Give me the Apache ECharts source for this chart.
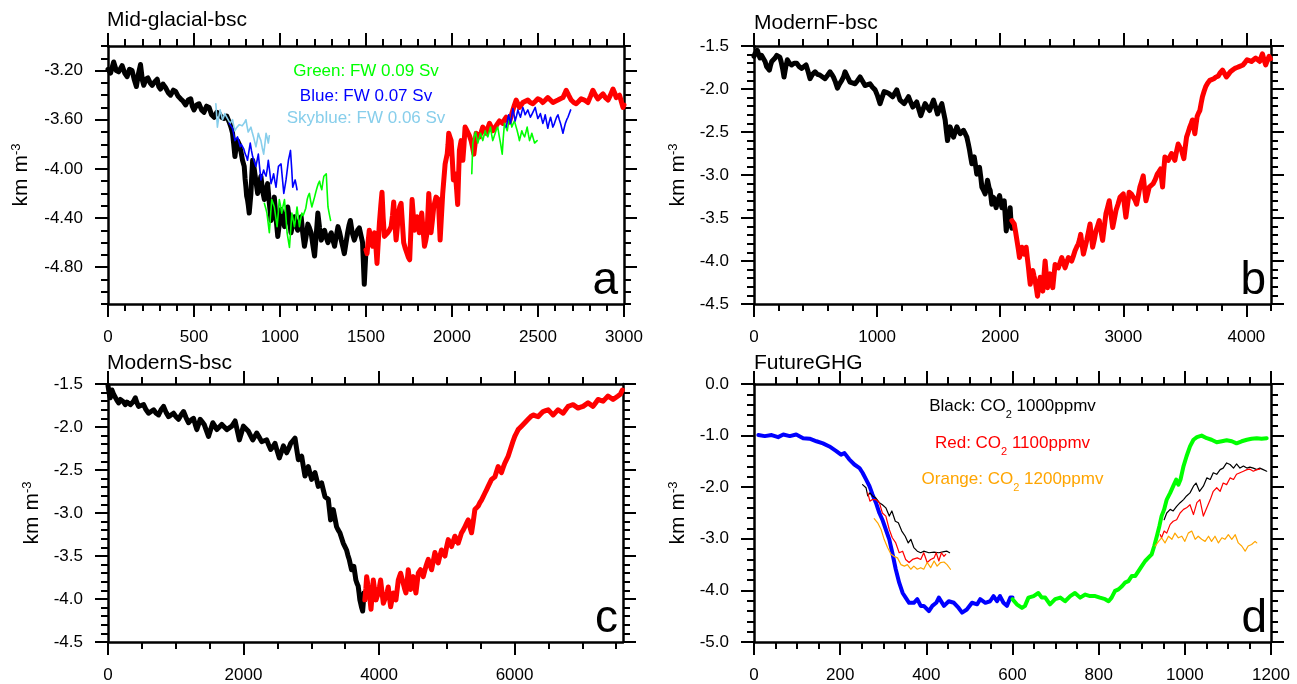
<!DOCTYPE html>
<html>
<head>
<meta charset="utf-8">
<script src="https://cdn.jsdelivr.net/npm/echarts@6/dist/echarts.min.js"></script>
<style>
html, body { margin: 0; padding: 0; background: #fff; }
#chart { width: 1297px; height: 684px; }
</style>
</head>
<body>
<div id="chart"></div>
<script>
var FONT = 'Liberation Sans';

// ---------------- tick labels ----------------
var aXTicks = [0, 500, 1000, 1500, 2000, 2500, 3000];
var aYTicks = [-4.8, -4.4, -4.0, -3.6, -3.2];
var bXTicks = [0, 1000, 2000, 3000, 4000];
var bYTicks = [-4.5, -4.0, -3.5, -3.0, -2.5, -2.0, -1.5];
var cXTicks = [0, 2000, 4000, 6000];
var cYTicks = [-4.5, -4.0, -3.5, -3.0, -2.5, -2.0, -1.5];
var dXTicks = [0, 200, 400, 600, 800, 1000, 1200];
var dYTicks = [-5.0, -4.0, -3.0, -2.0, -1.0, 0.0];

// ---------------- panel a : Mid-glacial-bsc ----------------
var aBlack = [[0,-3.19],[15,-3.22],[33,-3.13],[48,-3.20],[62,-3.21],[82,-3.16],[97,-3.22],[111,-3.25],[125,-3.19],[140,-3.20],[152,-3.27],[165,-3.33],[178,-3.22],[189,-3.15],[200,-3.28],[208,-3.32],[220,-3.27],[232,-3.26],[245,-3.30],[257,-3.32],[272,-3.29],[286,-3.27],[295,-3.33],[305,-3.35],[320,-3.31],[335,-3.34],[350,-3.38],[364,-3.40],[380,-3.36],[393,-3.37],[408,-3.41],[422,-3.43],[437,-3.45],[451,-3.48],[466,-3.44],[481,-3.43],[490,-3.49],[500,-3.52],[515,-3.48],[529,-3.47],[544,-3.52],[558,-3.54],[573,-3.49],[588,-3.50],[602,-3.56],[617,-3.58],[632,-3.54],[646,-3.55],[660,-3.58],[675,-3.59],[690,-3.57],[705,-3.62],[715,-3.66],[724,-3.71],[731,-3.80],[738,-3.90],[745,-3.82],[753,-3.77],[763,-3.80],[773,-3.86],[782,-3.93],[792,-3.98],[797,-4.08],[802,-4.15],[806,-4.22],[811,-4.25],[816,-4.30],[821,-4.36],[826,-4.28],[831,-4.20],[836,-4.05],[841,-3.93],[848,-3.98],[854,-4.04],[862,-4.12],[870,-4.20],[880,-4.12],[889,-4.06],[899,-4.18],[909,-4.25],[918,-4.18],[928,-4.12],[938,-4.28],[948,-4.42],[957,-4.33],[967,-4.23],[977,-4.40],[987,-4.55],[996,-4.45],[1006,-4.33],[1016,-4.40],[1026,-4.47],[1035,-4.38],[1045,-4.31],[1055,-4.42],[1064,-4.52],[1074,-4.45],[1084,-4.39],[1094,-4.46],[1103,-4.50],[1113,-4.44],[1123,-4.39],[1132,-4.52],[1142,-4.63],[1152,-4.55],[1162,-4.45],[1171,-4.48],[1181,-4.52],[1191,-4.62],[1201,-4.71],[1210,-4.55],[1220,-4.36],[1230,-4.48],[1240,-4.58],[1250,-4.53],[1259,-4.50],[1269,-4.56],[1279,-4.60],[1288,-4.55],[1298,-4.52],[1308,-4.58],[1317,-4.63],[1327,-4.55],[1337,-4.47],[1347,-4.52],[1356,-4.58],[1366,-4.64],[1374,-4.69],[1384,-4.60],[1393,-4.52],[1401,-4.46],[1409,-4.42],[1420,-4.52],[1432,-4.58],[1441,-4.54],[1451,-4.50],[1461,-4.48],[1471,-4.47],[1480,-4.60],[1490,-4.94],[1500,-4.66]];
var aRed = [[1500,-4.66],[1506,-4.69],[1512,-4.60],[1519,-4.50],[1529,-4.58],[1539,-4.63],[1549,-4.52],[1557,-4.62],[1564,-4.77],[1571,-4.60],[1578,-4.44],[1586,-4.30],[1593,-4.19],[1600,-4.40],[1607,-4.55],[1617,-4.54],[1626,-4.52],[1636,-4.50],[1646,-4.47],[1654,-4.38],[1661,-4.27],[1668,-4.45],[1675,-4.58],[1682,-4.48],[1688,-4.36],[1696,-4.31],[1704,-4.28],[1712,-4.45],[1719,-4.60],[1729,-4.65],[1739,-4.69],[1746,-4.72],[1754,-4.74],[1761,-4.50],[1768,-4.25],[1775,-4.38],[1781,-4.50],[1789,-4.45],[1797,-4.39],[1803,-4.46],[1810,-4.52],[1817,-4.44],[1824,-4.36],[1832,-4.50],[1840,-4.63],[1848,-4.58],[1855,-4.52],[1860,-4.36],[1865,-4.20],[1872,-4.36],[1878,-4.52],[1886,-4.42],[1894,-4.31],[1900,-4.27],[1907,-4.23],[1914,-4.24],[1921,-4.25],[1926,-4.42],[1931,-4.58],[1938,-4.40],[1946,-4.20],[1953,-4.08],[1960,-3.96],[1966,-3.92],[1972,-3.88],[1977,-3.80],[1981,-3.71],[1988,-3.74],[1995,-3.77],[2002,-3.93],[2008,-4.09],[2014,-4.06],[2020,-4.04],[2027,-4.17],[2033,-4.29],[2038,-4.07],[2043,-3.85],[2048,-3.81],[2053,-3.77],[2058,-3.85],[2063,-3.93],[2070,-3.80],[2076,-3.66],[2084,-3.68],[2092,-3.69],[2101,-3.73],[2111,-3.77],[2119,-3.82],[2127,-3.88],[2134,-3.80],[2140,-3.71],[2150,-3.72],[2160,-3.74],[2170,-3.70],[2179,-3.66],[2189,-3.68],[2198,-3.71],[2208,-3.67],[2218,-3.63],[2228,-3.66],[2237,-3.69],[2247,-3.67],[2257,-3.66],[2266,-3.63],[2276,-3.61],[2286,-3.62],[2296,-3.63],[2305,-3.60],[2315,-3.58],[2325,-3.60],[2334,-3.62],[2344,-3.57],[2354,-3.52],[2363,-3.48],[2373,-3.44],[2383,-3.47],[2392,-3.50],[2402,-3.48],[2412,-3.46],[2426,-3.45],[2441,-3.44],[2455,-3.46],[2470,-3.47],[2485,-3.45],[2499,-3.43],[2514,-3.44],[2528,-3.46],[2543,-3.44],[2557,-3.42],[2572,-3.44],[2587,-3.46],[2601,-3.45],[2616,-3.44],[2630,-3.43],[2645,-3.42],[2655,-3.39],[2664,-3.36],[2678,-3.40],[2693,-3.44],[2708,-3.46],[2722,-3.47],[2737,-3.45],[2751,-3.43],[2770,-3.44],[2790,-3.46],[2805,-3.41],[2819,-3.36],[2834,-3.40],[2848,-3.43],[2863,-3.41],[2878,-3.39],[2892,-3.42],[2907,-3.44],[2921,-3.40],[2936,-3.35],[2945,-3.38],[2955,-3.42],[2965,-3.41],[2974,-3.40],[2984,-3.45],[2994,-3.50],[3000,-3.48]];
var aGreen1 = [[909,-4.28],[917,-4.32],[924,-4.36],[931,-4.44],[938,-4.52],[945,-4.38],[952,-4.25],[960,-4.28],[967,-4.31],[975,-4.39],[983,-4.47],[990,-4.36],[996,-4.25],[1003,-4.30],[1010,-4.36],[1018,-4.30],[1026,-4.25],[1034,-4.38],[1041,-4.52],[1048,-4.58],[1055,-4.64],[1062,-4.50],[1069,-4.36],[1077,-4.42],[1084,-4.47],[1092,-4.39],[1099,-4.31],[1106,-4.39],[1113,-4.47],[1120,-4.41],[1127,-4.36],[1135,-4.38],[1142,-4.39],[1150,-4.32],[1158,-4.25],[1164,-4.22],[1171,-4.20],[1178,-4.26],[1185,-4.31],[1193,-4.27],[1201,-4.23],[1208,-4.19],[1216,-4.15],[1223,-4.12],[1230,-4.10],[1236,-4.14],[1243,-4.17],[1249,-4.11],[1255,-4.06],[1262,-4.05],[1269,-4.04],[1274,-4.18],[1279,-4.31],[1287,-4.37],[1294,-4.42]];
var aGreen2 = [[2115,-4.04],[2121,-3.79],[2129,-3.74],[2137,-3.70],[2144,-3.75],[2150,-3.79],[2158,-3.75],[2166,-3.71],[2172,-3.74],[2179,-3.77],[2186,-3.73],[2193,-3.69],[2200,-3.72],[2208,-3.74],[2216,-3.70],[2224,-3.66],[2230,-3.72],[2237,-3.77],[2244,-3.74],[2251,-3.71],[2258,-3.68],[2266,-3.66],[2274,-3.73],[2282,-3.79],[2292,-3.88],[2298,-3.75],[2305,-3.63],[2313,-3.66],[2321,-3.69],[2328,-3.63],[2334,-3.58],[2341,-3.62],[2348,-3.66],[2356,-3.63],[2363,-3.61],[2371,-3.65],[2379,-3.69],[2386,-3.73],[2392,-3.77],[2399,-3.73],[2406,-3.69],[2414,-3.72],[2422,-3.74],[2430,-3.70],[2437,-3.66],[2444,-3.72],[2451,-3.77],[2458,-3.74],[2464,-3.71],[2472,-3.75],[2480,-3.79],[2488,-3.78],[2495,-3.77]];
var aBlue1 = [[705,-3.63],[715,-3.65],[724,-3.67],[731,-3.72],[738,-3.77],[745,-3.76],[753,-3.74],[761,-3.78],[769,-3.82],[775,-3.80],[782,-3.79],[790,-3.84],[798,-3.88],[805,-3.90],[811,-3.93],[819,-3.86],[827,-3.79],[834,-3.85],[841,-3.90],[850,-3.94],[860,-3.98],[867,-3.93],[874,-3.88],[881,-3.98],[889,-4.09],[897,-4.05],[905,-4.01],[912,-4.04],[919,-4.06],[926,-4.00],[932,-3.93],[940,-4.02],[948,-4.12],[956,-4.08],[963,-4.04],[970,-4.10],[977,-4.15],[984,-4.06],[991,-3.98],[999,-3.97],[1006,-3.96],[1014,-4.08],[1022,-4.20],[1028,-4.15],[1035,-4.09],[1042,-4.01],[1049,-3.93],[1055,-3.89],[1061,-3.85],[1068,-4.00],[1074,-4.15],[1081,-4.12],[1088,-4.09],[1094,-4.13],[1099,-4.17]];
var aBlue2 = [[2315,-3.66],[2322,-3.61],[2329,-3.56],[2335,-3.60],[2340,-3.63],[2347,-3.57],[2354,-3.51],[2361,-3.56],[2367,-3.61],[2375,-3.57],[2383,-3.52],[2390,-3.55],[2398,-3.58],[2405,-3.54],[2412,-3.50],[2419,-3.53],[2425,-3.56],[2433,-3.54],[2441,-3.52],[2448,-3.55],[2456,-3.58],[2463,-3.56],[2470,-3.54],[2477,-3.52],[2484,-3.50],[2492,-3.55],[2499,-3.59],[2507,-3.57],[2514,-3.55],[2521,-3.59],[2528,-3.63],[2535,-3.60],[2542,-3.56],[2550,-3.62],[2557,-3.67],[2565,-3.62],[2573,-3.58],[2580,-3.62],[2586,-3.66],[2593,-3.64],[2600,-3.61],[2608,-3.58],[2616,-3.56],[2624,-3.60],[2631,-3.63],[2638,-3.67],[2645,-3.71],[2652,-3.67],[2659,-3.63],[2667,-3.60],[2674,-3.58],[2682,-3.55],[2690,-3.52]];
var aSkyblue = [[627,-3.47],[636,-3.66],[644,-3.58],[652,-3.52],[659,-3.56],[666,-3.60],[672,-3.58],[679,-3.55],[687,-3.57],[695,-3.58],[702,-3.61],[710,-3.63],[717,-3.62],[724,-3.60],[731,-3.65],[738,-3.69],[745,-3.67],[753,-3.66],[763,-3.64],[773,-3.63],[780,-3.65],[788,-3.66],[795,-3.62],[802,-3.60],[808,-3.65],[815,-3.70],[823,-3.68],[831,-3.66],[838,-3.70],[846,-3.74],[853,-3.78],[860,-3.82],[867,-3.77],[874,-3.71],[881,-3.74],[889,-3.77],[897,-3.83],[905,-3.88],[912,-3.80],[919,-3.71],[926,-3.75],[932,-3.79],[938,-3.73]];

// ---------------- panel b : ModernF-bsc ----------------
var bBlack = [[0,-1.62],[8,-1.59],[18,-1.57],[27,-1.55],[38,-1.60],[49,-1.64],[62,-1.61],[76,-1.60],[90,-1.68],[103,-1.74],[115,-1.76],[125,-1.78],[135,-1.72],[144,-1.68],[158,-1.66],[171,-1.64],[185,-1.61],[198,-1.59],[210,-1.63],[220,-1.68],[232,-1.76],[244,-1.86],[257,-1.75],[271,-1.66],[288,-1.70],[306,-1.72],[326,-1.70],[347,-1.70],[368,-1.74],[388,-1.76],[405,-1.74],[423,-1.72],[440,-1.80],[455,-1.88],[475,-1.83],[496,-1.80],[516,-1.83],[537,-1.84],[557,-1.86],[577,-1.88],[598,-1.84],[618,-1.80],[632,-1.83],[645,-1.86],[662,-1.92],[678,-1.99],[695,-1.94],[713,-1.90],[727,-1.86],[740,-1.80],[760,-1.86],[780,-1.92],[800,-1.93],[821,-1.94],[842,-1.90],[862,-1.86],[882,-1.91],[902,-1.96],[922,-1.95],[943,-1.94],[963,-1.98],[984,-2.01],[1004,-2.08],[1024,-2.17],[1040,-2.10],[1057,-2.03],[1075,-2.04],[1092,-2.05],[1110,-2.07],[1127,-2.09],[1143,-2.05],[1160,-2.01],[1173,-2.07],[1187,-2.13],[1203,-2.15],[1220,-2.17],[1238,-2.13],[1255,-2.09],[1272,-2.15],[1290,-2.21],[1306,-2.18],[1322,-2.15],[1338,-2.23],[1355,-2.31],[1372,-2.24],[1390,-2.17],[1408,-2.21],[1426,-2.25],[1442,-2.19],[1458,-2.13],[1475,-2.21],[1491,-2.29],[1508,-2.23],[1526,-2.17],[1540,-2.27],[1553,-2.36],[1562,-2.48],[1572,-2.60],[1582,-2.52],[1593,-2.44],[1607,-2.50],[1621,-2.56],[1634,-2.50],[1648,-2.44],[1661,-2.48],[1675,-2.52],[1688,-2.50],[1702,-2.48],[1716,-2.52],[1729,-2.56],[1740,-2.63],[1751,-2.71],[1760,-2.79],[1770,-2.87],[1780,-2.83],[1789,-2.79],[1800,-2.89],[1810,-2.99],[1821,-2.95],[1832,-2.91],[1842,-3.02],[1851,-3.14],[1865,-3.18],[1878,-3.22],[1888,-3.14],[1897,-3.06],[1910,-3.15],[1919,-3.18],[1932,-3.34],[1946,-3.26],[1958,-3.24],[1967,-3.38],[1980,-3.30],[1995,-3.24],[2005,-3.32],[2014,-3.38],[2024,-3.34],[2033,-3.30],[2041,-3.48],[2049,-3.65],[2058,-3.55],[2068,-3.49],[2075,-3.44],[2081,-3.38],[2088,-3.55],[2095,-3.62]];
var bRed = [[2095,-3.53],[2105,-3.55],[2114,-3.57],[2125,-3.66],[2136,-3.76],[2147,-3.86],[2157,-3.96],[2166,-3.90],[2176,-3.84],[2186,-3.88],[2195,-3.92],[2203,-3.88],[2211,-3.84],[2220,-3.96],[2230,-4.08],[2237,-4.18],[2244,-4.27],[2255,-4.19],[2265,-4.11],[2274,-4.17],[2284,-4.23],[2294,-4.32],[2303,-4.41],[2314,-4.30],[2325,-4.19],[2335,-4.27],[2346,-4.35],[2355,-4.18],[2365,-4.00],[2375,-4.16],[2384,-4.31],[2395,-4.23],[2406,-4.15],[2416,-4.23],[2427,-4.31],[2436,-4.18],[2446,-4.04],[2460,-4.06],[2473,-4.08],[2486,-4.02],[2500,-3.96],[2514,-4.02],[2527,-4.08],[2540,-4.02],[2554,-3.96],[2568,-3.98],[2581,-4.00],[2595,-3.94],[2608,-3.88],[2621,-3.84],[2635,-3.80],[2645,-3.75],[2654,-3.69],[2665,-3.81],[2676,-3.92],[2690,-3.84],[2703,-3.76],[2716,-3.67],[2730,-3.57],[2740,-3.70],[2751,-3.84],[2765,-3.75],[2778,-3.65],[2792,-3.59],[2805,-3.53],[2818,-3.65],[2832,-3.76],[2845,-3.61],[2859,-3.45],[2872,-3.38],[2886,-3.30],[2900,-3.46],[2914,-3.61],[2928,-3.51],[2941,-3.41],[2957,-3.34],[2973,-3.26],[2986,-3.24],[3000,-3.22],[3010,-3.36],[3021,-3.49],[3035,-3.34],[3048,-3.20],[3065,-3.22],[3081,-3.24],[3095,-3.29],[3108,-3.34],[3122,-3.24],[3135,-3.14],[3148,-3.08],[3162,-3.01],[3173,-3.16],[3184,-3.30],[3198,-3.22],[3211,-3.14],[3227,-3.12],[3243,-3.10],[3260,-3.05],[3276,-2.99],[3290,-2.96],[3303,-2.93],[3311,-3.04],[3319,-3.14],[3328,-2.96],[3338,-2.79],[3352,-2.81],[3365,-2.83],[3378,-2.79],[3392,-2.75],[3405,-2.79],[3419,-2.83],[3432,-2.73],[3446,-2.64],[3460,-2.68],[3473,-2.71],[3482,-2.76],[3492,-2.81],[3503,-2.68],[3514,-2.56],[3528,-2.50],[3541,-2.44],[3552,-2.40],[3562,-2.36],[3572,-2.44],[3581,-2.52],[3590,-2.42],[3600,-2.32],[3611,-2.28],[3622,-2.25],[3632,-2.17],[3643,-2.09],[3656,-2.03],[3670,-1.97],[3686,-1.93],[3703,-1.90],[3719,-1.89],[3735,-1.88],[3753,-1.86],[3771,-1.85],[3788,-1.81],[3806,-1.78],[3822,-1.82],[3838,-1.86],[3854,-1.83],[3870,-1.80],[3888,-1.78],[3906,-1.76],[3924,-1.75],[3941,-1.74],[3957,-1.73],[3973,-1.72],[3990,-1.69],[4006,-1.66],[4024,-1.67],[4041,-1.68],[4058,-1.66],[4076,-1.64],[4092,-1.66],[4108,-1.68],[4120,-1.63],[4130,-1.59],[4143,-1.66],[4157,-1.72],[4170,-1.67],[4184,-1.62],[4195,-1.65]];

// ---------------- panel c : ModernS-bsc ----------------
var cBlack = [[0,-1.52],[10,-1.57],[22,-1.63],[34,-1.66],[46,-1.61],[59,-1.57],[83,-1.62],[108,-1.64],[132,-1.69],[157,-1.72],[182,-1.68],[206,-1.66],[230,-1.71],[255,-1.74],[280,-1.71],[304,-1.70],[329,-1.74],[354,-1.76],[378,-1.70],[403,-1.66],[428,-1.72],[452,-1.76],[488,-1.75],[525,-1.74],[562,-1.80],[599,-1.84],[636,-1.82],[673,-1.80],[710,-1.84],[746,-1.86],[783,-1.80],[820,-1.76],[857,-1.83],[894,-1.88],[930,-1.86],[967,-1.84],[1004,-1.88],[1041,-1.91],[1078,-1.86],[1115,-1.82],[1151,-1.89],[1188,-1.95],[1225,-1.92],[1262,-1.90],[1287,-1.97],[1311,-2.03],[1336,-1.97],[1360,-1.91],[1390,-1.94],[1419,-1.97],[1451,-2.04],[1483,-2.11],[1515,-2.03],[1547,-1.95],[1577,-1.99],[1606,-2.03],[1643,-2.00],[1679,-1.97],[1716,-2.00],[1753,-2.03],[1790,-2.01],[1827,-1.99],[1852,-1.96],[1876,-1.93],[1908,-2.04],[1939,-2.15],[1969,-2.07],[1998,-1.99],[2035,-2.02],[2072,-2.05],[2104,-2.10],[2136,-2.15],[2166,-2.11],[2195,-2.07],[2232,-2.12],[2268,-2.17],[2305,-2.16],[2342,-2.15],[2372,-2.21],[2401,-2.26],[2433,-2.23],[2465,-2.19],[2497,-2.28],[2529,-2.36],[2559,-2.29],[2588,-2.22],[2613,-2.26],[2637,-2.30],[2667,-2.25],[2696,-2.19],[2728,-2.16],[2760,-2.13],[2785,-2.26],[2809,-2.38],[2834,-2.36],[2858,-2.34],[2883,-2.46],[2907,-2.57],[2932,-2.52],[2956,-2.46],[2981,-2.54],[3005,-2.61],[3030,-2.57],[3054,-2.53],[3079,-2.61],[3103,-2.69],[3128,-2.67],[3152,-2.65],[3177,-2.73],[3202,-2.81],[3226,-2.83],[3251,-2.84],[3268,-2.96],[3285,-3.08],[3305,-3.02],[3324,-2.96],[3349,-3.06],[3373,-3.16],[3398,-3.20],[3422,-3.23],[3447,-3.29],[3471,-3.35],[3496,-3.39],[3520,-3.43],[3540,-3.49],[3560,-3.54],[3577,-3.60],[3594,-3.66],[3611,-3.64],[3628,-3.62],[3643,-3.70],[3658,-3.78],[3675,-3.82],[3692,-3.85],[3705,-3.93],[3717,-4.01],[3729,-4.05],[3743,-4.10],[3758,-4.14],[3770,-4.02],[3778,-3.93],[3790,-4.01]];
var cRed = [[3790,-4.01],[3805,-3.88],[3817,-3.74],[3836,-3.84],[3856,-3.93],[3868,-4.02],[3881,-4.12],[3898,-3.95],[3915,-3.78],[3935,-3.90],[3955,-4.01],[3972,-3.97],[3989,-3.93],[4006,-3.86],[4023,-3.78],[4043,-3.92],[4063,-4.05],[4082,-4.01],[4102,-3.97],[4119,-3.92],[4136,-3.86],[4153,-3.98],[4171,-4.09],[4190,-4.01],[4210,-3.93],[4230,-3.97],[4249,-4.01],[4266,-3.90],[4284,-3.78],[4301,-3.74],[4318,-3.70],[4338,-3.76],[4358,-3.82],[4377,-3.88],[4397,-3.93],[4414,-3.80],[4431,-3.66],[4449,-3.78],[4466,-3.89],[4486,-3.82],[4505,-3.74],[4525,-3.84],[4544,-3.93],[4561,-3.82],[4579,-3.70],[4596,-3.68],[4613,-3.66],[4633,-3.70],[4652,-3.74],[4672,-3.68],[4692,-3.62],[4709,-3.58],[4726,-3.54],[4750,-3.60],[4775,-3.66],[4800,-3.56],[4824,-3.46],[4849,-3.52],[4873,-3.58],[4898,-3.50],[4922,-3.43],[4947,-3.47],[4972,-3.50],[4996,-3.40],[5021,-3.31],[5046,-3.35],[5070,-3.39],[5095,-3.33],[5119,-3.27],[5144,-3.31],[5168,-3.35],[5193,-3.29],[5217,-3.23],[5242,-3.20],[5267,-3.16],[5291,-3.12],[5316,-3.08],[5340,-3.16],[5365,-3.23],[5390,-3.10],[5414,-2.96],[5439,-2.94],[5463,-2.92],[5488,-2.88],[5512,-2.85],[5537,-2.81],[5561,-2.77],[5586,-2.73],[5610,-2.69],[5635,-2.65],[5660,-2.61],[5684,-2.60],[5709,-2.58],[5733,-2.52],[5758,-2.46],[5782,-2.50],[5807,-2.53],[5832,-2.47],[5856,-2.42],[5881,-2.38],[5905,-2.34],[5930,-2.28],[5954,-2.22],[5979,-2.16],[6003,-2.11],[6028,-2.07],[6053,-2.03],[6078,-2.01],[6102,-1.99],[6127,-1.97],[6151,-1.95],[6176,-1.93],[6200,-1.91],[6237,-1.88],[6274,-1.86],[6310,-1.87],[6347,-1.88],[6384,-1.85],[6421,-1.82],[6458,-1.81],[6495,-1.80],[6532,-1.83],[6569,-1.86],[6605,-1.83],[6642,-1.80],[6679,-1.82],[6716,-1.84],[6753,-1.80],[6790,-1.76],[6826,-1.75],[6863,-1.74],[6900,-1.76],[6937,-1.78],[6974,-1.77],[7011,-1.76],[7047,-1.74],[7084,-1.72],[7121,-1.74],[7158,-1.76],[7195,-1.72],[7232,-1.68],[7268,-1.69],[7305,-1.70],[7342,-1.67],[7379,-1.64],[7416,-1.66],[7453,-1.68],[7490,-1.66],[7526,-1.64],[7560,-1.62],[7590,-1.57]];

// ---------------- panel d : FutureGHG ----------------
var dBlue = [[10,-0.99],[25,-1.01],[41,-0.99],[56,-1.03],[68,-0.98],[83,-1.01],[98,-0.98],[114,-1.05],[129,-1.06],[145,-1.11],[160,-1.15],[175,-1.21],[191,-1.30],[202,-1.37],[210,-1.34],[221,-1.46],[233,-1.56],[245,-1.63],[252,-1.72],[260,-1.85],[268,-1.98],[275,-2.14],[283,-2.30],[291,-2.50],[298,-2.63],[306,-2.82],[314,-3.01],[321,-3.27],[329,-3.59],[337,-3.85],[345,-4.05],[352,-4.14],[360,-4.24],[371,-4.24],[379,-4.17],[387,-4.30],[394,-4.30],[406,-4.40],[414,-4.30],[423,-4.24],[429,-4.14],[441,-4.30],[452,-4.21],[464,-4.24],[475,-4.34],[483,-4.43],[494,-4.37],[506,-4.24],[518,-4.27],[525,-4.17],[537,-4.24],[548,-4.21],[556,-4.11],[564,-4.21],[571,-4.11],[579,-4.24],[587,-4.30],[595,-4.14],[600,-4.14]];
var dGreen = [[600,-4.17],[610,-4.27],[622,-4.34],[629,-4.30],[637,-4.14],[649,-4.11],[660,-4.05],[668,-4.14],[676,-4.14],[687,-4.27],[699,-4.17],[711,-4.14],[722,-4.21],[734,-4.11],[745,-4.05],[757,-4.14],[769,-4.08],[780,-4.11],[792,-4.11],[803,-4.14],[815,-4.17],[823,-4.21],[830,-4.14],[838,-4.01],[846,-3.98],[854,-3.92],[861,-3.85],[869,-3.82],[877,-3.72],[885,-3.72],[892,-3.63],[900,-3.53],[908,-3.43],[915,-3.37],[923,-3.30],[929,-3.14],[935,-2.95],[941,-2.75],[946,-2.56],[952,-2.43],[958,-2.24],[966,-2.11],[973,-1.98],[980,-1.85],[985,-1.95],[990,-1.85],[997,-1.59],[1004,-1.40],[1012,-1.21],[1020,-1.08],[1028,-1.03],[1039,-1.00],[1051,-1.05],[1062,-1.08],[1074,-1.13],[1086,-1.11],[1097,-1.09],[1109,-1.11],[1120,-1.15],[1132,-1.11],[1144,-1.08],[1155,-1.06],[1167,-1.05],[1178,-1.06],[1190,-1.05]];
var dBlack1 = [[252,-1.95],[260,-2.01],[264,-2.17],[269,-2.11],[275,-2.17],[283,-2.21],[291,-2.30],[298,-2.34],[306,-2.40],[314,-2.56],[320,-2.46],[328,-2.66],[335,-2.69],[343,-2.85],[351,-2.95],[358,-3.08],[364,-3.01],[371,-3.17],[379,-3.24],[387,-3.27],[394,-3.24],[406,-3.27],[418,-3.26],[429,-3.27],[441,-3.25],[448,-3.24],[454,-3.27]];
var dRed1 = [[264,-2.11],[269,-2.27],[275,-2.24],[283,-2.24],[291,-2.30],[298,-2.50],[306,-2.56],[314,-2.82],[321,-2.98],[329,-3.08],[337,-3.27],[345,-3.24],[352,-3.40],[360,-3.46],[368,-3.40],[379,-3.37],[387,-3.40],[394,-3.27],[402,-3.46],[410,-3.40],[418,-3.37],[423,-3.27],[429,-3.43],[435,-3.27],[441,-3.34],[445,-3.30]];
var dOrange1 = [[279,-2.61],[287,-2.69],[295,-2.82],[302,-3.01],[310,-3.17],[318,-3.30],[325,-3.34],[333,-3.37],[341,-3.50],[349,-3.53],[356,-3.50],[364,-3.59],[371,-3.53],[379,-3.59],[387,-3.56],[394,-3.59],[402,-3.46],[410,-3.56],[418,-3.43],[425,-3.53],[433,-3.46],[441,-3.45],[448,-3.50],[456,-3.59]];
var dBlack2 = [[952,-2.63],[958,-2.50],[966,-2.43],[973,-2.46],[981,-2.37],[989,-2.30],[997,-2.24],[1004,-2.17],[1012,-2.11],[1020,-1.98],[1026,-1.92],[1034,-2.08],[1043,-1.98],[1051,-1.82],[1059,-1.85],[1066,-1.72],[1074,-1.75],[1082,-1.66],[1089,-1.63],[1097,-1.53],[1105,-1.56],[1113,-1.63],[1120,-1.55],[1128,-1.63],[1136,-1.59],[1144,-1.63],[1151,-1.61],[1159,-1.63],[1167,-1.66],[1174,-1.63],[1182,-1.66],[1190,-1.69]];
var dRed2 = [[943,-2.92],[946,-2.98],[952,-2.85],[958,-2.89],[966,-2.72],[973,-2.66],[981,-2.63],[989,-2.50],[997,-2.43],[1004,-2.40],[1012,-2.34],[1020,-2.53],[1028,-2.30],[1035,-2.24],[1043,-2.56],[1051,-2.40],[1059,-2.24],[1066,-2.08],[1074,-2.01],[1082,-2.08],[1089,-1.92],[1097,-1.95],[1105,-1.82],[1113,-1.85],[1120,-1.75],[1128,-1.72],[1136,-1.69],[1144,-1.66],[1151,-1.65],[1159,-1.69],[1167,-1.66],[1174,-1.65]];
var dOrange2 = [[931,-3.14],[939,-3.05],[946,-2.98],[954,-3.08],[962,-2.95],[970,-3.01],[977,-2.89],[985,-2.98],[993,-2.95],[1000,-3.05],[1008,-2.89],[1016,-2.85],[1024,-3.01],[1031,-2.95],[1039,-3.01],[1047,-3.05],[1055,-2.95],[1062,-3.05],[1070,-2.95],[1078,-3.08],[1086,-2.98],[1093,-3.01],[1101,-2.92],[1109,-3.01],[1117,-2.92],[1124,-3.08],[1132,-3.14],[1140,-3.24],[1147,-3.14],[1155,-3.11],[1163,-3.05],[1167,-3.08]];

// ---------------- layout ----------------
var panels = [
  {left:108, top:46, width:516, height:258, xMin:0, xMax:3000, xTicks:aXTicks, xMinor:100,
   yMin:-5.1, yMax:-3.0, yTicks:aYTicks, yMinor:0.1, yDigits:2, nameGap:76},
  {left:754, top:46, width:517, height:258, xMin:0, xMax:4200, xTicks:bXTicks, xMinor:200,
   yMin:-4.5, yMax:-1.5, yTicks:bYTicks, yMinor:0.1, yDigits:1, nameGap:65},
  {left:108, top:384, width:515, height:258, xMin:0, xMax:7600, xTicks:cXTicks, xMinor:500,
   yMin:-4.5, yMax:-1.5, yTicks:cYTicks, yMinor:0.1, yDigits:1, nameGap:65},
  {left:754, top:384, width:517, height:258, xMin:0, xMax:1200, xTicks:dXTicks, xMinor:50,
   yMin:-5.0, yMax:0.0, yTicks:dYTicks, yMinor:0.2, yDigits:1, nameGap:65}
];

function minorList(min, max, step) {
  var out = [];
  var n = Math.round((max - min) / step);
  for (var k = 0; k <= n; k++) {
    out.push(Math.round((min + k * step) * 1000) / 1000);
  }
  return out;
}

function makeAxis(gi, pos, min, max, ticks, len, withLine, withLabel, digits, margin) {
  return {
    type: 'value', gridIndex: gi, position: pos, min: min, max: max,
    axisLine: {show: withLine, onZero: false, lineStyle: {color: '#000', width: 2.5}},
    axisTick: {show: true, inside: false, length: len, customValues: ticks,
      lineStyle: {color: '#000', width: 2}},
    axisLabel: {show: withLabel, customValues: ticks, margin: margin, fontSize: 17,
      fontFamily: FONT, color: '#000',
      formatter: function (v) {
        if (Math.abs(v) < 1e-9) v = 0;
        return v.toFixed(digits);
      }},
    splitLine: {show: false},
    minorTick: {show: false}
  };
}

var grids = [], xAxes = [], yAxes = [];
panels.forEach(function (p, i) {
  grids.push({left: p.left, top: p.top, width: p.width, height: p.height,
    containLabel: false, outerBoundsMode: 'none'});
  var xm = minorList(p.xMin, p.xMax, p.xMinor);
  var ym = minorList(p.yMin, p.yMax, p.yMinor);
  xAxes.push(makeAxis(i, 'bottom', p.xMin, p.xMax, p.xTicks, 13, true, true, 0, 25));
  xAxes.push(makeAxis(i, 'bottom', p.xMin, p.xMax, xm, 7, false, false, 0, 25));
  xAxes.push(makeAxis(i, 'top', p.xMin, p.xMax, p.xTicks, 13, true, false, 0, 25));
  xAxes.push(makeAxis(i, 'top', p.xMin, p.xMax, xm, 7, false, false, 0, 25));
  var ly = makeAxis(i, 'left', p.yMin, p.yMax, p.yTicks, 13, true, true, p.yDigits, 25);
  ly.name = '{n|km m}{s|-3}';
  ly.nameLocation = 'middle';
  ly.nameGap = p.nameGap;
  ly.nameTextStyle = {
    rich: {
      n: {fontSize: 21, fontFamily: FONT, color: '#000', lineHeight: 22, verticalAlign: 'bottom'},
      s: {fontSize: 13, fontFamily: FONT, color: '#000', lineHeight: 13, verticalAlign: 'top'}
    }
  };
  yAxes.push(ly);
  yAxes.push(makeAxis(i, 'left', p.yMin, p.yMax, ym, 7, false, false, 0, 25));
  yAxes.push(makeAxis(i, 'right', p.yMin, p.yMax, p.yTicks, 13, true, false, 0, 25));
  yAxes.push(makeAxis(i, 'right', p.yMin, p.yMax, ym, 7, false, false, 0, 25));
});

function line(panel, data, color, width) {
  return {
    type: 'line', xAxisIndex: panel * 4, yAxisIndex: panel * 4, data: data,
    showSymbol: false, symbol: 'none', silent: true, animation: false,
    lineStyle: {color: color, width: width, join: 'round', cap: 'round'},
    itemStyle: {color: color}
  };
}

var series = [
  line(0, aBlack, '#000000', 5),
  line(0, aRed, '#ff0000', 5),
  line(0, aSkyblue, '#87ceeb', 1.6),
  line(0, aGreen1, '#00ff00', 1.6),
  line(0, aGreen2, '#00ff00', 1.6),
  line(0, aBlue1, '#0000ff', 1.6),
  line(0, aBlue2, '#0000ff', 1.6),
  line(1, bBlack, '#000000', 5),
  line(1, bRed, '#ff0000', 5),
  line(2, cBlack, '#000000', 5),
  line(2, cRed, '#ff0000', 5),
  line(3, dBlue, '#0000ff', 4),
  line(3, dGreen, '#00ff00', 4),
  line(3, dBlack1, '#000000', 1.2),
  line(3, dBlack2, '#000000', 1.2),
  line(3, dRed1, '#ff0000', 1.2),
  line(3, dRed2, '#ff0000', 1.2),
  line(3, dOrange1, '#ffa500', 1.2),
  line(3, dOrange2, '#ffa500', 1.2)
];

function txt(text, x, y, color, size, align) {
  return {type: 'text', x: x, y: y, silent: true,
    style: {text: text, fill: color, fontSize: size, fontFamily: FONT,
      align: align, verticalAlign: 'middle'}};
}

function co2Text(prefix, suffix, x, y, color) {
  return {type: 'text', x: x, y: y, silent: true,
    style: {text: '{n|' + prefix + 'CO}{s|2}{n| ' + suffix + '}', fill: color,
      align: 'center', verticalAlign: 'middle',
      rich: {
        n: {fontSize: 17, fontFamily: FONT, fill: color, lineHeight: 22, verticalAlign: 'top'},
        s: {fontSize: 11, fontFamily: FONT, fill: color, lineHeight: 14, verticalAlign: 'bottom'}
      }}};
}

var graphics = [
  txt('Mid-glacial-bsc', 107, 20, '#000', 21, 'left'),
  txt('ModernF-bsc', 754, 23, '#000', 21, 'left'),
  txt('ModernS-bsc', 107, 363, '#000', 21, 'left'),
  txt('FutureGHG', 754, 363, '#000', 21, 'left'),
  txt('a', 618, 281, '#000', 46, 'right'),
  txt('b', 1266, 281, '#000', 46, 'right'),
  txt('c', 618, 619, '#000', 46, 'right'),
  txt('d', 1267, 619, '#000', 46, 'right'),
  txt('Green: FW 0.09 Sv', 366, 71, '#00ff00', 17, 'center'),
  txt('Blue: FW 0.07 Sv', 366, 96, '#0000ff', 17, 'center'),
  txt('Skyblue: FW 0.06 Sv', 366, 118.5, '#87ceeb', 17, 'center'),
  co2Text('Black: ', '1000ppmv', 1012.5, 409, '#000000'),
  co2Text('Red: ', '1100ppmv', 1012.5, 446, '#ff0000'),
  co2Text('Orange: ', '1200ppmv', 1012.5, 482, '#ffa500')
];

var chart = echarts.init(document.getElementById('chart'), null, {renderer: 'canvas'});
chart.setOption({
  animation: false,
  backgroundColor: '#ffffff',
  grid: grids,
  xAxis: xAxes,
  yAxis: yAxes,
  series: series,
  graphic: graphics
});
</script>
</body>
</html>
